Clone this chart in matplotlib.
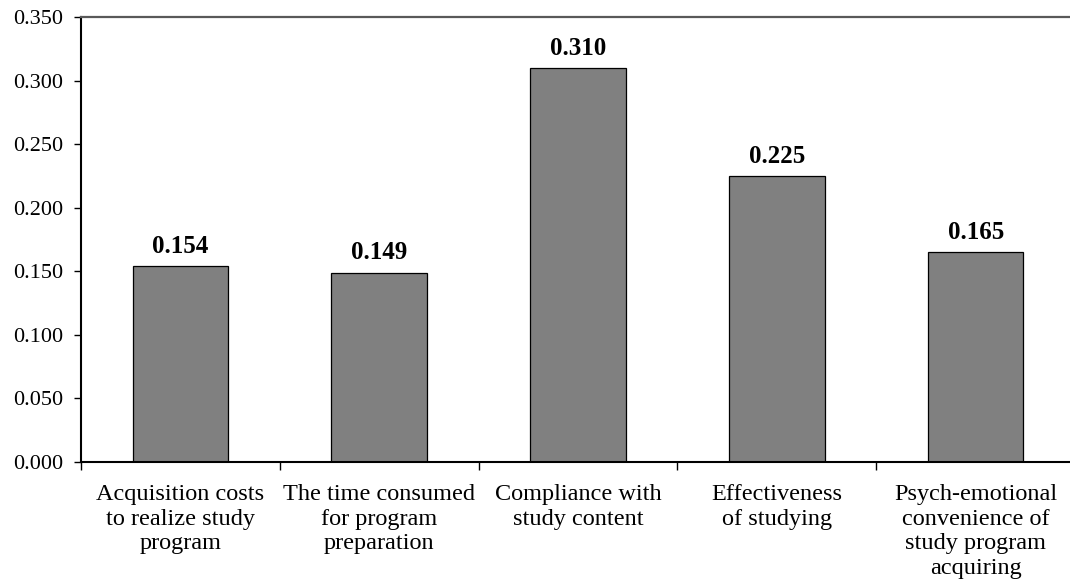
import numpy as np
import matplotlib.pyplot as plt

# criteria and their weights
categories = [
    "Acquisition costs\nto realize study\nprogram",
    "The time consumed\nfor program\npreparation",
    "Compliance with\nstudy content",
    "Effectiveness\nof studying",
    "Psych-emotional\nconvenience of\nstudy program\nacquiring",
]
weights = [0.154, 0.149, 0.310, 0.225, 0.165]
yticks = [0.000, 0.050, 0.100, 0.150, 0.200, 0.250, 0.300, 0.350]

plt.rcParams['font.family'] = ['Liberation Serif', 'DejaVu Serif']

fig = plt.figure(figsize=(10.7, 5.87), dpi=100)
ax = fig.add_axes([0.0757, 0.213, 0.929, 0.758])

x = np.arange(len(categories))
ax.bar(x, weights, width=0.48, color='#808080', edgecolor='black', linewidth=0.9)

for xi, w in zip(x, weights):
    ax.annotate(f"{w:.3f}", (xi, w), xytext=(0, 6), textcoords='offset points',
                ha='center', va='bottom', fontsize=18, fontweight='bold')

ax.set_xlim(-0.5, len(categories) - 0.5)
ax.set_ylim(0, 0.35)
ax.set_yticks(yticks)
ax.set_yticklabels([f"{t:.3f}" for t in yticks], fontsize=16)
ax.tick_params(axis='y', length=5, width=1, direction='out', pad=8)

# category boundaries get the tick marks, labels sit at bar centres
ax.set_xticks(np.arange(len(categories) + 1) - 0.5)
ax.set_xticklabels([])
ax.set_xticks(x, minor=True)
ax.set_xticklabels(categories, minor=True, fontsize=17.5, linespacing=1.22, va='top')
ax.tick_params(axis='x', which='major', length=6, width=1, direction='out')
ax.tick_params(axis='x', which='minor', length=0, pad=16)

ax.spines['right'].set_visible(False)
ax.spines['top'].set_color('#595959')
ax.spines['top'].set_linewidth(1.6)
ax.spines['left'].set_linewidth(1.5)
ax.spines['bottom'].set_linewidth(1.5)

fig.savefig('out.png', dpi=100)
